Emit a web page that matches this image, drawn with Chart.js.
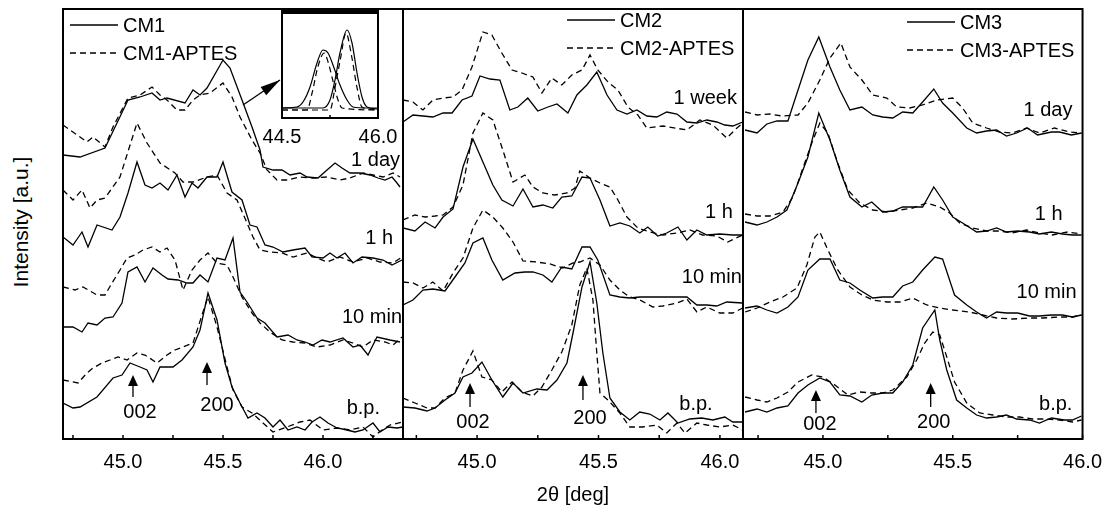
<!DOCTYPE html>
<html><head><meta charset="utf-8">
<script src="https://cdn.jsdelivr.net/npm/chart.js@4.4.1/dist/chart.umd.min.js"></script>
<style>
html,body{margin:0;padding:0;background:#fff;width:1111px;height:512px;overflow:hidden;position:relative;font-family:"Liberation Sans",Arial,sans-serif;}
canvas{position:absolute;}
.ttl{position:absolute;font-size:20px;color:#000;white-space:nowrap;transform:translate(-50%,-50%);}
</style></head><body>
<canvas id="c1" width="400" height="479" style="left:33px;top:0"></canvas>
<canvas id="c2" width="400" height="479" style="left:373px;top:0"></canvas>
<canvas id="c3" width="400" height="479" style="left:713px;top:0"></canvas>
<canvas id="ci" width="156" height="138" style="left:252px;top:10px"></canvas>
<div class="ttl" style="left:573px;top:494px">2θ [deg]</div>
<div class="ttl" style="left:21px;top:222px;font-size:21px;transform:translate(-50%,-50%) rotate(-90deg)">Intensity [a.u.]</div>
<script>
// ---------- Panel 1 (CM1) ----------
const cm1_1day_x=[44.70,44.785,44.91,45.025,45.085,45.145,45.185,45.22,45.31,45.35,45.385,45.42,45.50,45.535,45.595,45.645,45.685,45.70,45.75,45.795,45.835,45.885,45.92,45.975,46.02,46.06,46.095,46.135,46.185,46.235,46.275,46.31,46.345,46.37,46.385];
const cm1_1day_y=[285,283,292,340,343,347,340,342,337,350,345,352,380,372,340,313,290,273,270,270,265,267,263,262,270,277,272,267,267,265,262,260,263,257,253];
const cm1a_1day_x=[44.70,44.82,44.85,44.91,44.95,45.025,45.085,45.145,45.185,45.22,45.27,45.31,45.35,45.385,45.435,45.50,45.545,45.585,45.645,45.685,45.72,45.77,45.82,45.885,45.95,46.02,46.085,46.135,46.20,46.25,46.30,46.35,46.385];
const cm1a_1day_y=[315,298,303,293,313,342,345,353,345,340,330,330,340,345,347,357,343,323,300,287,270,260,260,263,262,263,260,262,267,265,263,267,263];
const cm1_1h_x=[44.70,44.75,44.795,44.825,44.87,44.945,44.985,45.025,45.07,45.11,45.145,45.185,45.225,45.27,45.31,45.345,45.375,45.42,45.47,45.50,45.545,45.595,45.635,45.67,45.71,45.75,45.80,45.85,45.91,45.945,46.00,46.035,46.07,46.11,46.15,46.195,46.25,46.30,46.345,46.395];
const cm1_1h_y=[203,195,208,193,215,210,223,247,278,255,252,257,250,265,243,257,252,263,263,278,248,240,215,213,195,193,188,190,192,183,182,187,182,187,177,183,182,180,175,180];
const cm1a_1h_x=[44.70,44.75,44.795,44.835,44.87,44.91,44.985,45.07,45.12,45.185,45.26,45.30,45.35,45.42,45.47,45.52,45.57,45.62,45.65,45.685,45.735,45.795,45.85,45.92,45.97,46.02,46.085,46.15,46.22,46.285,46.35,46.395];
const cm1a_1h_y=[250,240,250,232,240,242,263,317,297,277,267,258,258,263,265,247,240,217,203,190,188,187,183,187,182,178,183,178,182,178,177,183];
const cm1_10m_x=[44.70,44.75,44.795,44.825,44.87,44.91,44.95,44.995,45.025,45.07,45.11,45.15,45.195,45.225,45.275,45.32,45.35,45.385,45.425,45.47,45.51,45.55,45.585,45.62,45.67,45.71,45.77,45.825,45.87,45.91,45.95,45.995,46.035,46.10,46.15,46.185,46.225,46.27,46.335,46.385];
const cm1_10m_y=[113,113,108,117,115,122,123,137,168,173,158,172,165,161,160,157,157,165,158,182,180,202,148,138,122,117,103,105,100,98,95,100,98,102,93,95,85,103,100,98];
const cm1a_10m_x=[44.70,44.76,44.80,44.87,44.91,44.945,44.985,45.02,45.06,45.10,45.145,45.185,45.22,45.26,45.30,45.345,45.385,45.425,45.47,45.52,45.55,45.595,45.645,45.685,45.735,45.795,45.85,45.91,45.97,46.035,46.10,46.15,46.20,46.25,46.31,46.35,46.395];
const cm1a_10m_y=[153,150,153,145,145,157,170,182,185,190,193,188,192,180,150,170,180,187,177,175,163,143,127,117,108,100,98,97,93,95,100,97,93,100,98,95,103];
const cm1_bp_x=[44.70,44.75,44.785,44.87,44.95,44.995,45.035,45.085,45.12,45.15,45.185,45.25,45.295,45.35,45.385,45.425,45.47,45.51,45.545,45.585,45.625,45.67,45.71,45.75,45.785,45.825,45.87,45.91,45.945,45.985,46.025,46.07,46.12,46.16,46.20,46.25,46.285,46.325,46.37,46.40];
const cm1_bp_y=[37,32,33,43,62,65,77,73,70,58,73,73,80,93,110,147,120,77,53,37,22,27,22,13,20,10,13,10,18,23,17,12,10,8,10,17,8,13,12,13];
const cm1a_bp_x=[44.70,44.775,44.82,44.85,44.895,44.935,44.975,45.02,45.07,45.11,45.17,45.22,45.26,45.30,45.35,45.395,45.425,45.47,45.52,45.55,45.595,45.645,45.70,45.75,45.82,45.885,45.935,46.00,46.07,46.135,46.20,46.25,46.295,46.335,46.40];
const cm1a_bp_y=[60,57,67,72,77,80,83,80,87,85,77,85,90,93,97,125,143,113,73,50,33,27,17,8,13,18,20,10,12,10,13,3,10,15,18];

// ---------- Panel 2 (CM2) ----------
const cm2_1w_x=[44.695,44.736,44.777,44.818,44.86,44.897,44.938,44.979,45.012,45.053,45.094,45.135,45.168,45.209,45.25,45.292,45.329,45.374,45.411,45.452,45.493,45.535,45.576,45.617,45.658,45.699,45.74,45.781,45.823,45.864,45.905,45.946,45.987,46.02,46.053,46.094];
const cm2_1w_y=[318,325,324,323,327,327,340,344,364,361,360,330,333,342,329,333,336,327,345,355,368,345,330,326,330,324,323,328,326,318,317,320,318,315,314,318];
const cm2a_1w_x=[44.695,44.736,44.777,44.818,44.86,44.901,44.938,44.979,45.024,45.061,45.102,45.144,45.185,45.23,45.267,45.308,45.349,45.39,45.432,45.465,45.497,45.539,45.58,45.621,45.662,45.699,45.765,45.864,45.917,45.971,46.028,46.07,46.094];
const cm2a_1w_y=[340,338,330,340,342,343,350,373,408,405,387,370,367,363,347,362,355,365,370,385,370,358,350,333,325,312,314,310,320,315,302,312,317];
const cm2_1h_x=[44.695,44.744,44.786,44.827,44.86,44.901,44.942,44.983,45.024,45.065,45.102,45.148,45.189,45.23,45.271,45.312,45.349,45.39,45.432,45.465,45.506,45.547,45.588,45.629,45.67,45.703,45.744,45.781,45.827,45.864,45.905,45.946,45.999,46.053,46.094];
const cm2_1h_y=[212,209,218,212,223,231,273,301,278,255,240,234,251,233,235,232,243,244,263,262,240,214,217,214,207,213,204,207,213,200,210,205,206,205,205];
const cm2a_1h_x=[44.695,44.744,44.786,44.827,44.86,44.901,44.942,44.983,45.024,45.065,45.106,45.148,45.197,45.23,45.271,45.32,45.37,45.403,45.423,45.465,45.506,45.547,45.58,45.617,45.662,45.711,45.765,45.823,45.876,45.929,45.987,46.032,46.094];
const cm2a_1h_y=[220,225,223,224,225,233,255,307,327,320,290,258,265,253,247,245,247,252,269,262,257,253,240,223,212,208,205,207,210,205,204,198,205];
const cm2_10m_x=[44.695,44.736,44.777,44.818,44.868,44.909,44.95,44.983,45.024,45.061,45.106,45.156,45.197,45.23,45.271,45.308,45.349,45.39,45.432,45.465,45.497,45.547,45.588,45.629,45.67,45.711,45.765,45.823,45.864,45.905,45.946,45.987,46.028,46.094];
const cm2_10m_y=[135,140,150,151,149,163,177,197,202,180,160,167,168,168,165,158,173,171,193,193,180,145,143,142,143,143,143,143,143,135,135,134,138,137];
const cm2a_10m_x=[44.695,44.736,44.777,44.818,44.86,44.901,44.942,44.983,45.024,45.065,45.106,45.148,45.189,45.246,45.3,45.353,45.395,45.423,45.465,45.506,45.547,45.588,45.629,45.67,45.724,45.765,45.823,45.864,45.905,45.946,45.999,46.053,46.094];
const cm2a_10m_y=[158,157,152,158,149,167,182,212,230,223,212,198,179,178,176,172,177,178,182,175,160,150,143,140,133,134,137,141,128,133,127,127,132];
const cm2_bp_x=[44.695,44.744,44.794,44.827,44.868,44.909,44.942,44.979,45.02,45.061,45.106,45.148,45.189,45.246,45.288,45.329,45.37,45.395,45.432,45.465,45.493,45.518,45.547,45.588,45.629,45.67,45.711,45.753,45.786,45.827,45.876,45.925,45.971,46.02,46.053,46.094];
const cm2_bp_y=[33,32,29,32,40,47,63,67,78,60,43,57,47,51,50,60,77,107,153,178,137,87,42,28,20,28,26,20,27,17,21,22,20,23,18,18];
const cm2a_bp_x=[44.695,44.744,44.794,44.827,44.868,44.909,44.942,44.983,45.02,45.061,45.102,45.144,45.185,45.23,45.267,45.308,45.349,45.39,45.423,45.452,45.477,45.493,45.506,45.539,45.588,45.629,45.683,45.74,45.781,45.823,45.856,45.905,45.946,45.999,46.053,46.094];
const cm2a_bp_y=[42,37,32,32,42,47,70,89,63,60,48,58,48,44,53,70,88,115,155,172,140,87,47,40,27,13,13,15,7,17,7,17,15,13,15,10];

// ---------- Panel 3 (CM3) ----------
const cm3_1d_x=[44.70,44.746,44.784,44.823,44.865,44.904,44.942,44.984,45.027,45.065,45.104,45.15,45.192,45.23,45.269,45.307,45.346,45.384,45.427,45.461,45.50,45.554,45.592,45.63,45.669,45.707,45.746,45.788,45.827,45.88,45.911,45.957,45.996];
const cm3_1d_y=[310,307,316,319,319,350,380,403,373,350,330,333,325,323,322,328,327,338,351,337,327,312,307,309,310,304,307,312,305,308,308,305,307];
const cm3a_1d_x=[44.70,44.746,44.796,44.842,44.904,44.942,44.988,45.027,45.069,45.104,45.15,45.192,45.246,45.284,45.334,45.384,45.438,45.50,45.538,45.577,45.63,45.68,45.73,45.784,45.834,45.892,45.95,45.996];
const cm3a_1d_y=[328,325,326,324,325,337,360,382,397,373,360,345,342,333,332,335,340,342,332,317,312,308,307,312,307,312,308,307];
const cm3_1h_x=[44.70,44.746,44.784,44.823,44.861,44.904,44.942,44.984,45.027,45.065,45.104,45.15,45.188,45.23,45.269,45.307,45.346,45.384,45.427,45.461,45.50,45.538,45.592,45.63,45.669,45.707,45.75,45.796,45.834,45.88,45.923,45.961,45.996];
const cm3_1h_y=[218,215,218,223,230,257,283,327,300,270,243,233,238,228,229,233,233,233,253,240,223,217,208,209,212,208,209,208,206,208,206,205,205];
const cm3a_1h_x=[44.70,44.746,44.796,44.846,44.884,44.923,44.957,44.988,45.019,45.057,45.096,45.142,45.192,45.246,45.296,45.346,45.40,45.45,45.488,45.527,45.577,45.63,45.68,45.73,45.784,45.834,45.884,45.942,45.996];
const cm3a_1h_y=[226,224,224,228,243,272,297,317,307,277,250,237,230,228,230,232,237,233,227,217,212,209,209,207,210,207,205,208,206];
const cm3_10m_x=[44.70,44.746,44.784,44.823,44.865,44.904,44.942,44.988,45.027,45.065,45.104,45.142,45.192,45.23,45.269,45.307,45.346,45.384,45.431,45.461,45.507,45.554,45.592,45.63,45.669,45.707,45.75,45.796,45.834,45.88,45.923,45.961,45.996];
const cm3_10m_y=[132,134,130,127,133,143,170,181,181,160,157,150,142,143,143,154,158,170,183,181,145,135,128,122,128,127,127,124,124,125,125,123,125];
const cm3a_10m_x=[44.70,44.746,44.796,44.846,44.90,44.938,44.969,44.988,45.019,45.057,45.104,45.15,45.192,45.246,45.296,45.346,45.40,45.45,45.50,45.565,45.615,45.669,45.73,45.796,45.846,45.911,45.961,45.996];
const cm3a_10m_y=[128,132,138,143,152,175,203,208,190,170,153,145,140,138,138,142,135,132,130,128,125,122,121,122,122,123,123,125];
const cm3_bp_x=[44.70,44.746,44.784,44.823,44.865,44.904,44.942,44.988,45.027,45.065,45.104,45.15,45.188,45.23,45.269,45.307,45.346,45.384,45.431,45.45,45.477,45.515,45.554,45.592,45.63,45.669,45.707,45.746,45.796,45.834,45.88,45.93,45.961,45.996];
const cm3_bp_y=[28,31,28,32,34,47,55,62,58,45,44,38,45,47,47,58,75,112,130,100,70,40,32,25,22,23,25,21,20,17,22,20,20,24];
const cm3a_bp_x=[44.70,44.746,44.784,44.823,44.865,44.904,44.957,45.0,45.046,45.096,45.142,45.188,45.23,45.269,45.323,45.361,45.392,45.423,45.45,45.477,45.507,45.554,45.604,45.654,45.707,45.757,45.807,45.861,45.911,45.961,45.996];
const cm3a_bp_y=[43,40,38,42,48,58,65,63,55,45,48,47,47,50,63,80,97,108,105,83,58,37,27,25,23,23,21,21,20,18,20];

// ---------- Inset (peak fits) ----------
const ins_s1_x=[44.5,44.734,44.828,44.938,45.047,45.14,45.219,45.297,45.406,45.516,45.609,45.828,46.0];
const ins_s1_y=[0,1,6,21,45,58,55,43,23,8,1,0,0];
const ins_s2_x=[44.5,45.14,45.25,45.328,45.406,45.516,45.594,45.672,45.75,45.828,46.0];
const ins_s2_y=[0,0,8,28,55,78,65,35,11,1,-1];
const ins_d1_x=[44.5,44.89,44.97,45.06,45.16,45.22,45.30,45.375,45.44,46.0];
const ins_d1_y=[-2,-2,15,41,55,46,26,8,0,-2];
const ins_d2_x=[44.5,45.25,45.33,45.41,45.50,45.59,45.67,45.75,46.0];
const ins_d2_y=[-2,-2,21,48,75,51,21,1,-2];

// ---------- Tick labels ----------
const ticks_main=[45.0,45.5,46.0];
const ticks_main_labels=["45.0","45.5","46.0"];
const minor_p1=[44.75,45.0,45.25,45.5,45.75,46.0,46.25];
const minor_p23=[44.75,45.0,45.25,45.5,45.75,46.0];
const ticks_inset=[44.5,46.0];
const ticks_inset_labels=["44.5","46.0"];
const minor_inset=[45.25];

const FONT='"Liberation Sans", Arial, sans-serif';

function pts(xs,ys){return xs.map((x,i)=>({x:x,y:ys[i]}));}
function ds(xs,ys,dashed,extra){
  return Object.assign({data:pts(xs,ys),borderColor:'#000',borderWidth:1.3,borderDash:dashed?[6,4]:[],
    pointRadius:0,fill:false,tension:0},extra||{});
}
function arrowHead(ctx,x1,y1,x2,y2,len,half){
  const a=Math.atan2(y2-y1,x2-x1);
  ctx.beginPath();
  ctx.moveTo(x2,y2);
  ctx.lineTo(x2-len*Math.cos(a)+half*Math.sin(a),y2-len*Math.sin(a)-half*Math.cos(a));
  ctx.lineTo(x2-len*Math.cos(a)-half*Math.sin(a),y2-len*Math.sin(a)+half*Math.cos(a));
  ctx.closePath();ctx.fill();
}
function decoPlugin(cfg){
  return {id:'deco',afterDraw(chart){
    const ctx=chart.ctx,a=chart.chartArea,sx=chart.scales.x,sy=chart.scales.y;
    ctx.save();
    ctx.strokeStyle='#000';ctx.fillStyle='#000';
    ctx.lineWidth=1.5;
    cfg.minor.forEach(v=>{const p=sx.getPixelForValue(v);ctx.beginPath();ctx.moveTo(p,a.bottom);ctx.lineTo(p,a.bottom-cfg.tickLen);ctx.stroke();});
    ctx.lineWidth=2;
    ctx.strokeRect(a.left,a.top,a.right-a.left,a.bottom-a.top);
    if(cfg.thickTop){ctx.fillRect(a.left-1,a.top-2,a.right-a.left+2,4);}
    ctx.font='20px '+FONT;
    if(cfg.legend){
      cfg.legend.items.forEach((it,i)=>{
        const y=a.top+cfg.legend.y0+i*28;
        const x0=a.left+cfg.legend.dx;
        ctx.lineWidth=1.3;ctx.setLineDash(it[1]?[6,4]:[]);
        ctx.beginPath();ctx.moveTo(x0,y);ctx.lineTo(x0+48,y);ctx.stroke();
        ctx.setLineDash([]);
        ctx.textAlign='left';ctx.textBaseline='middle';
        ctx.fillText(it[0],x0+53,y+1);
      });
    }
    (cfg.labels||[]).forEach(l=>{
      ctx.textAlign='right';ctx.textBaseline='middle';
      ctx.fillText(l[0],sx.getPixelForValue(l[1]),sy.getPixelForValue(l[2]));
    });
    (cfg.arrows||[]).forEach(r=>{
      const x=sx.getPixelForValue(r[0]),yt=sy.getPixelForValue(r[1]),yb=sy.getPixelForValue(r[2]);
      ctx.lineWidth=1.3;ctx.beginPath();ctx.moveTo(x,yb);ctx.lineTo(x,yt+6);ctx.stroke();
      ctx.beginPath();ctx.moveTo(x,yt);ctx.lineTo(x-5,yt+11);ctx.lineTo(x+5,yt+11);ctx.closePath();ctx.fill();
      ctx.textAlign='center';ctx.textBaseline='middle';
      ctx.fillText(r[3],sx.getPixelForValue(r[4]),sy.getPixelForValue(r[5]));
    });
    if(cfg.pointer){
      const p=cfg.pointer;
      const x1=sx.getPixelForValue(p[0]),y1=sy.getPixelForValue(p[1]),x2=sx.getPixelForValue(p[2]),y2=sy.getPixelForValue(p[3]);
      ctx.lineWidth=1.3;ctx.beginPath();ctx.moveTo(x1,y1);ctx.lineTo(x2,y2);ctx.stroke();
      arrowHead(ctx,x1,y1,x2,y2,20,5);
    }
    ctx.restore();
  }};
}
function makeChart(id,datasets,xmin,xmax,ymin,ymax,tv,tl,pad,axisH,tickPad,cfg){
  return new Chart(document.getElementById(id),{
    type:'line',
    data:{datasets:datasets},
    options:{
      responsive:false,animation:false,events:[],
      layout:{padding:pad},
      plugins:{legend:{display:false},tooltip:{enabled:false}},
      scales:{
        x:{type:'linear',min:xmin,max:xmax,offset:false,
          grid:{display:false,drawTicks:false},border:{display:false},
          afterBuildTicks:s=>{s.ticks=tv.map(v=>({value:v}));},
          afterFit:s=>{s.height=axisH;},
          ticks:{autoSkip:false,maxRotation:0,padding:tickPad,color:'#000',font:{family:FONT,size:20},
            callback:(v,i)=>tl[i]}},
        y:{type:'linear',display:false,min:ymin,max:ymax}
      }
    },
    plugins:[decoPlugin(cfg)]
  });
}
const PAD={left:30,right:30,top:9,bottom:0};

makeChart('c1',[
  ds(cm1_1day_x,cm1_1day_y,false),ds(cm1a_1day_x,cm1a_1day_y,true),
  ds(cm1_1h_x,cm1_1h_y,false),ds(cm1a_1h_x,cm1a_1h_y,true),
  ds(cm1_10m_x,cm1_10m_y,false),ds(cm1a_10m_x,cm1a_10m_y,true),
  ds(cm1_bp_x,cm1_bp_y,false),ds(cm1a_bp_x,cm1a_bp_y,true)
],44.70,46.40,1,431,ticks_main,ticks_main_labels,PAD,40,11,{
  minor:minor_p1,tickLen:4,
  legend:{dx:7,y0:16,items:[['CM1',false],['CM1-APTES',true]]},
  labels:[['1 day',46.385,280],['1 h',46.35,202],['10 min',46.395,123],['b.p.',46.285,32]],
  arrows:[[45.05,65,43,'002',45.085,28],[45.42,78,55,'200',45.47,35]],
  pointer:[45.60,335,45.785,360]
});
makeChart('c2',[
  ds(cm2_1w_x,cm2_1w_y,false),ds(cm2a_1w_x,cm2a_1w_y,true),
  ds(cm2_1h_x,cm2_1h_y,false),ds(cm2a_1h_x,cm2a_1h_y,true),
  ds(cm2_10m_x,cm2_10m_y,false),ds(cm2a_10m_x,cm2a_10m_y,true),
  ds(cm2_bp_x,cm2_bp_y,false),ds(cm2a_bp_x,cm2a_bp_y,true)
],44.695,46.095,1,431,ticks_main,ticks_main_labels,PAD,40,11,{
  minor:minor_p23,tickLen:4,
  legend:{dx:164,y0:11,items:[['CM2',false],['CM2-APTES',true]]},
  labels:[['1 week',46.07,342],['1 h',46.053,228],['10 min',46.09,163],['b.p.',45.97,36]],
  arrows:[[44.971,57,33,'002',44.983,18],[45.436,65,40,'200',45.465,22]]
});
makeChart('c3',[
  ds(cm3_1d_x,cm3_1d_y,false),ds(cm3a_1d_x,cm3a_1d_y,true),
  ds(cm3_1h_x,cm3_1h_y,false),ds(cm3a_1h_x,cm3a_1h_y,true),
  ds(cm3_10m_x,cm3_10m_y,false),ds(cm3a_10m_x,cm3a_10m_y,true),
  ds(cm3_bp_x,cm3_bp_y,false),ds(cm3a_bp_x,cm3a_bp_y,true)
],44.692,46.0,1,431,ticks_main,ticks_main_labels,PAD,40,11,{
  minor:minor_p23,tickLen:4,
  legend:{dx:164,y0:13,items:[['CM3',false],['CM3-APTES',true]]},
  labels:[['1 day',45.961,330],['1 h',45.923,226],['10 min',45.977,148],['b.p.',45.961,36]],
  arrows:[[44.973,50,27,'002',44.988,16],[45.415,57,33,'200',45.427,18]]
});
const smooth={tension:0.4,cubicInterpolationMode:'monotone',borderWidth:1.2};
makeChart('ci',[
  ds(ins_s1_x,ins_s1_y,false,smooth),ds(ins_s2_x,ins_s2_y,false,smooth),
  ds(ins_d1_x,ins_d1_y,true,smooth),ds(ins_d2_x,ins_d2_y,true,smooth)
],44.5,46.0,-10,96,ticks_inset,ticks_inset_labels,{left:30,right:30,top:2,bottom:0},30,7,{
  minor:minor_inset,tickLen:3,thickTop:true
});
</script>
</body></html>
